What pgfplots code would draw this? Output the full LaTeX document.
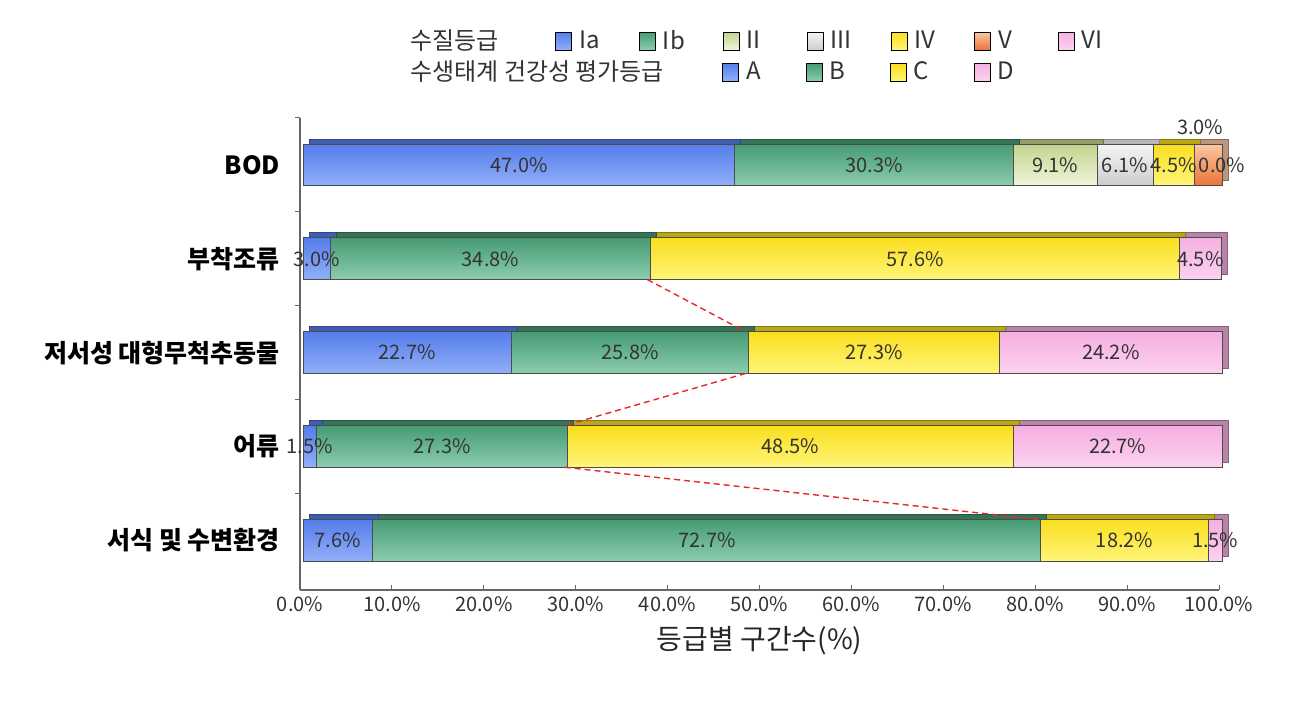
\documentclass[border=0pt]{standalone}
\usepackage{pgfplots}
\pgfplotsset{compat=1.18}
\usepackage{pgfplotstable}
\usepackage{fontspec}
\setmainfont{Noto Sans CJK KR}

% top / bottom colours of each grade (Excel-like gradient)
\definecolor{Iat}{RGB}{85,125,235}   \definecolor{Iab}{RGB}{145,175,248}
\definecolor{Ibt}{RGB}{70,155,115}   \definecolor{Ibb}{RGB}{140,205,175}
\definecolor{IIt}{RGB}{195,212,140}  \definecolor{IIb}{RGB}{240,245,220}
\definecolor{IIIt}{RGB}{245,245,245} \definecolor{IIIb}{RGB}{205,205,208}
\definecolor{IVt}{RGB}{250,222,30}   \definecolor{IVb}{RGB}{255,245,120}
\definecolor{Vt}{RGB}{250,200,165}   \definecolor{Vb}{RGB}{235,115,55}
\definecolor{VIt}{RGB}{245,175,225}  \definecolor{VIb}{RGB}{252,210,238}

% BOD: water quality grades
\pgfplotstableread{
pos Ia Ib II III IV V VI
4 47.0 30.3 9.1 6.1 4.5 3.0 0.0
}\bod
% ecosystem health grades, one table per category
\pgfplotstableread{
pos A B C D
3 3.0 34.8 57.6 4.5
}\algae
\pgfplotstableread{
pos A B C D
2 22.7 25.8 27.3 24.2
}\benthos
\pgfplotstableread{
pos A B C D
1 1.5 27.3 48.5 22.7
}\fish
\pgfplotstableread{
pos A B C D
0 7.6 72.7 18.2 1.5
}\habitat

\pgfplotsset{
  base/.style={scale only axis, width=459.5pt, height=236pt,
    xmin=0, xmax=100, ymin=-0.53, ymax=4.5, clip=false},
  bars/.style={base, hide axis, xbar stacked, stacked ignores zero=false, bar width=0.444},
  leg/.style={legend style={draw=none, fill=none, inner sep=0pt, legend columns=-1,
    font=\fontsize{12}{14}\selectfont, text=black!80, anchor=west, at={#1},
    nodes={inner sep=0pt}}},
  sq/.style={legend image code/.code={\shade[top color=#1t, bottom color=#1b] (0pt,-4.5pt) rectangle (8pt,4.5pt);}},
}
\newcommand{\front}[3]{\addplot[draw=black!70, line width=0.5pt, top color=#3t, bottom color=#3b]
  table[x=#2, y=pos]{#1};}
\newcommand{\back}[3]{\addplot[draw=#3t!55!black, fill=#3t!75!black, line width=0.5pt] table[x=#2, y=pos]{#1};}
% value label at the middle of a segment: table, x of the middle, column
\newcommand{\lab}[4][]{\addplot[draw=none, mark=none, point meta=explicit,
  nodes near coords={\pgfmathprintnumber[fixed,fixed zerofill,precision=1]{\pgfplotspointmeta}\%},
  every node near coord/.append style={anchor=center, xshift=1.5pt, inner sep=0pt,
    font=\fontsize{10}{12}\selectfont, text=black!80}, #1]
  table[x expr={#3}, y=pos, meta=#4]{#2};}
\newcommand{\ent}[1]{\makebox[33.5pt][l]{\hspace{3.5pt}#1}}
\newcommand{\ecobar}[1]{%
  \begin{axis}[bars, xshift=4.5pt, yshift=2.5pt]
  \back{#1}{A}{Ia} \back{#1}{B}{Ib} \back{#1}{C}{IV} \back{#1}{D}{VI}
  \end{axis}
  \begin{axis}[bars, xshift=1.5pt]
  \front{#1}{A}{Ia} \front{#1}{B}{Ib} \front{#1}{C}{IV} \front{#1}{D}{VI}
  \end{axis}}
\newcommand{\ecolab}[1]{%
  \lab{#1}{\thisrow{A}/2}{A}
  \lab{#1}{\thisrow{A}+\thisrow{B}/2}{B}
  \lab{#1}{\thisrow{A}+\thisrow{B}+\thisrow{C}/2}{C}
  \lab{#1}{\thisrow{A}+\thisrow{B}+\thisrow{C}+\thisrow{D}/2}{D}}

\begin{document}
\begin{tikzpicture}
% BOD bar: depth face, then front
\begin{axis}[bars, xshift=4.5pt, yshift=2.5pt]
\back{\bod}{Ia}{Ia} \back{\bod}{Ib}{Ib} \back{\bod}{II}{II} \back{\bod}{III}{III}
\back{\bod}{IV}{IV} \back{\bod}{V}{V} \back{\bod}{VI}{VI}
\end{axis}
\begin{axis}[bars, xshift=1.5pt]
\front{\bod}{Ia}{Ia} \front{\bod}{Ib}{Ib} \front{\bod}{II}{II} \front{\bod}{III}{III}
\front{\bod}{IV}{IV} \front{\bod}{V}{V} \front{\bod}{VI}{VI}
\end{axis}
% ecosystem health bars
\ecobar{\algae}
\ecobar{\benthos}
\ecobar{\fish}
\ecobar{\habitat}
% legends
\begin{axis}[base, hide axis, xshift=1.5pt, leg={(rel axis cs:0.1164,1.163)}]
\addlegendimage{empty legend}\addlegendentry{\makebox[72.5pt][l]{수질등급}}
\addlegendimage{sq=Ia}\addlegendentry{\ent{Ia}}
\addlegendimage{sq=Ib}\addlegendentry{\ent{Ib}}
\addlegendimage{sq=II}\addlegendentry{\ent{II}}
\addlegendimage{sq=III}\addlegendentry{\ent{III}}
\addlegendimage{sq=IV}\addlegendentry{\ent{IV}}
\addlegendimage{sq=V}\addlegendentry{\ent{V}}
\addlegendimage{sq=VI}\addlegendentry{\ent{VI}}
\end{axis}
\begin{axis}[base, hide axis, xshift=1.5pt, leg={(rel axis cs:0.1164,1.097)}]
\addlegendimage{empty legend}\addlegendentry{\makebox[156pt][l]{수생태계 건강성 평가등급}}
\addlegendimage{sq=Ia}\addlegendentry{\ent{A}}
\addlegendimage{sq=Ib}\addlegendentry{\ent{B}}
\addlegendimage{sq=IV}\addlegendentry{\ent{C}}
\addlegendimage{sq=VI}\addlegendentry{\ent{D}}
\end{axis}
% frame, ticks, labels, value labels and connecting lines
\begin{axis}[base,
  axis x line*=bottom, axis y line*=left,
  axis line style={draw=black!60, line width=0.6pt},
  xtick={0,10,...,100}, xtick align=inside,
  xticklabel={\pgfmathprintnumber[fixed,fixed zerofill,precision=1]{\tick}\%},
  /pgf/number format/assume math mode=true,
  ytick={0.5,1.5,2.5,3.5,4.5}, yticklabels={}, ytick align=outside,
  major tick length=2.5pt, tick style={draw=black!60, line width=0.5pt},
  extra y ticks={0,1,2,3,4},
  extra y tick labels={서식 및 수변환경, 어류, 저서성 대형무척추동물, 부착조류, BOD},
  extra y tick style={tick style={draw=none},
    yticklabel style={font=\bfseries\fontsize{12.5}{14}\selectfont, text=black, xshift=-4pt}},
  tick label style={font=\fontsize{10}{12}\selectfont, text=black!80},
  xlabel={등급별 구간수(\%)},
  xlabel style={font=\fontsize{14}{16}\selectfont, text=black!85},
]
\addplot[color={rgb,255:red,230;green,40;blue,40}, dash pattern=on 3pt off 2pt, line width=0.7pt]
  coordinates {(37.8,2.778) (48.5,2.222)};
\addplot[color={rgb,255:red,230;green,40;blue,40}, dash pattern=on 3pt off 2pt, line width=0.7pt]
  coordinates {(48.5,1.778) (28.8,1.222)};
\addplot[color={rgb,255:red,230;green,40;blue,40}, dash pattern=on 3pt off 2pt, line width=0.7pt]
  coordinates {(28.8,0.778) (80.3,0.222)};
% BOD labels
\lab{\bod}{\thisrow{Ia}/2}{Ia}
\lab{\bod}{\thisrow{Ia}+\thisrow{Ib}/2}{Ib}
\lab{\bod}{\thisrow{Ia}+\thisrow{Ib}+\thisrow{II}/2}{II}
\lab{\bod}{\thisrow{Ia}+\thisrow{Ib}+\thisrow{II}+\thisrow{III}/2}{III}
\lab{\bod}{\thisrow{Ia}+\thisrow{Ib}+\thisrow{II}+\thisrow{III}+\thisrow{IV}/2}{IV}
\lab[every node near coord/.append style={yshift=19pt, xshift=-4pt}]
  {\bod}{\thisrow{Ia}+\thisrow{Ib}+\thisrow{II}+\thisrow{III}+\thisrow{IV}+\thisrow{V}/2}{V}
\lab{\bod}{\thisrow{Ia}+\thisrow{Ib}+\thisrow{II}+\thisrow{III}+\thisrow{IV}+\thisrow{V}+\thisrow{VI}/2}{VI}
% ecosystem labels
\ecolab{\algae}
\ecolab{\benthos}
\ecolab{\fish}
\ecolab{\habitat}
\end{axis}
\pgfresetboundingbox
\path[use as bounding box] (-150pt,-60pt) rectangle (505pt,295pt);
\end{tikzpicture}
\end{document}
